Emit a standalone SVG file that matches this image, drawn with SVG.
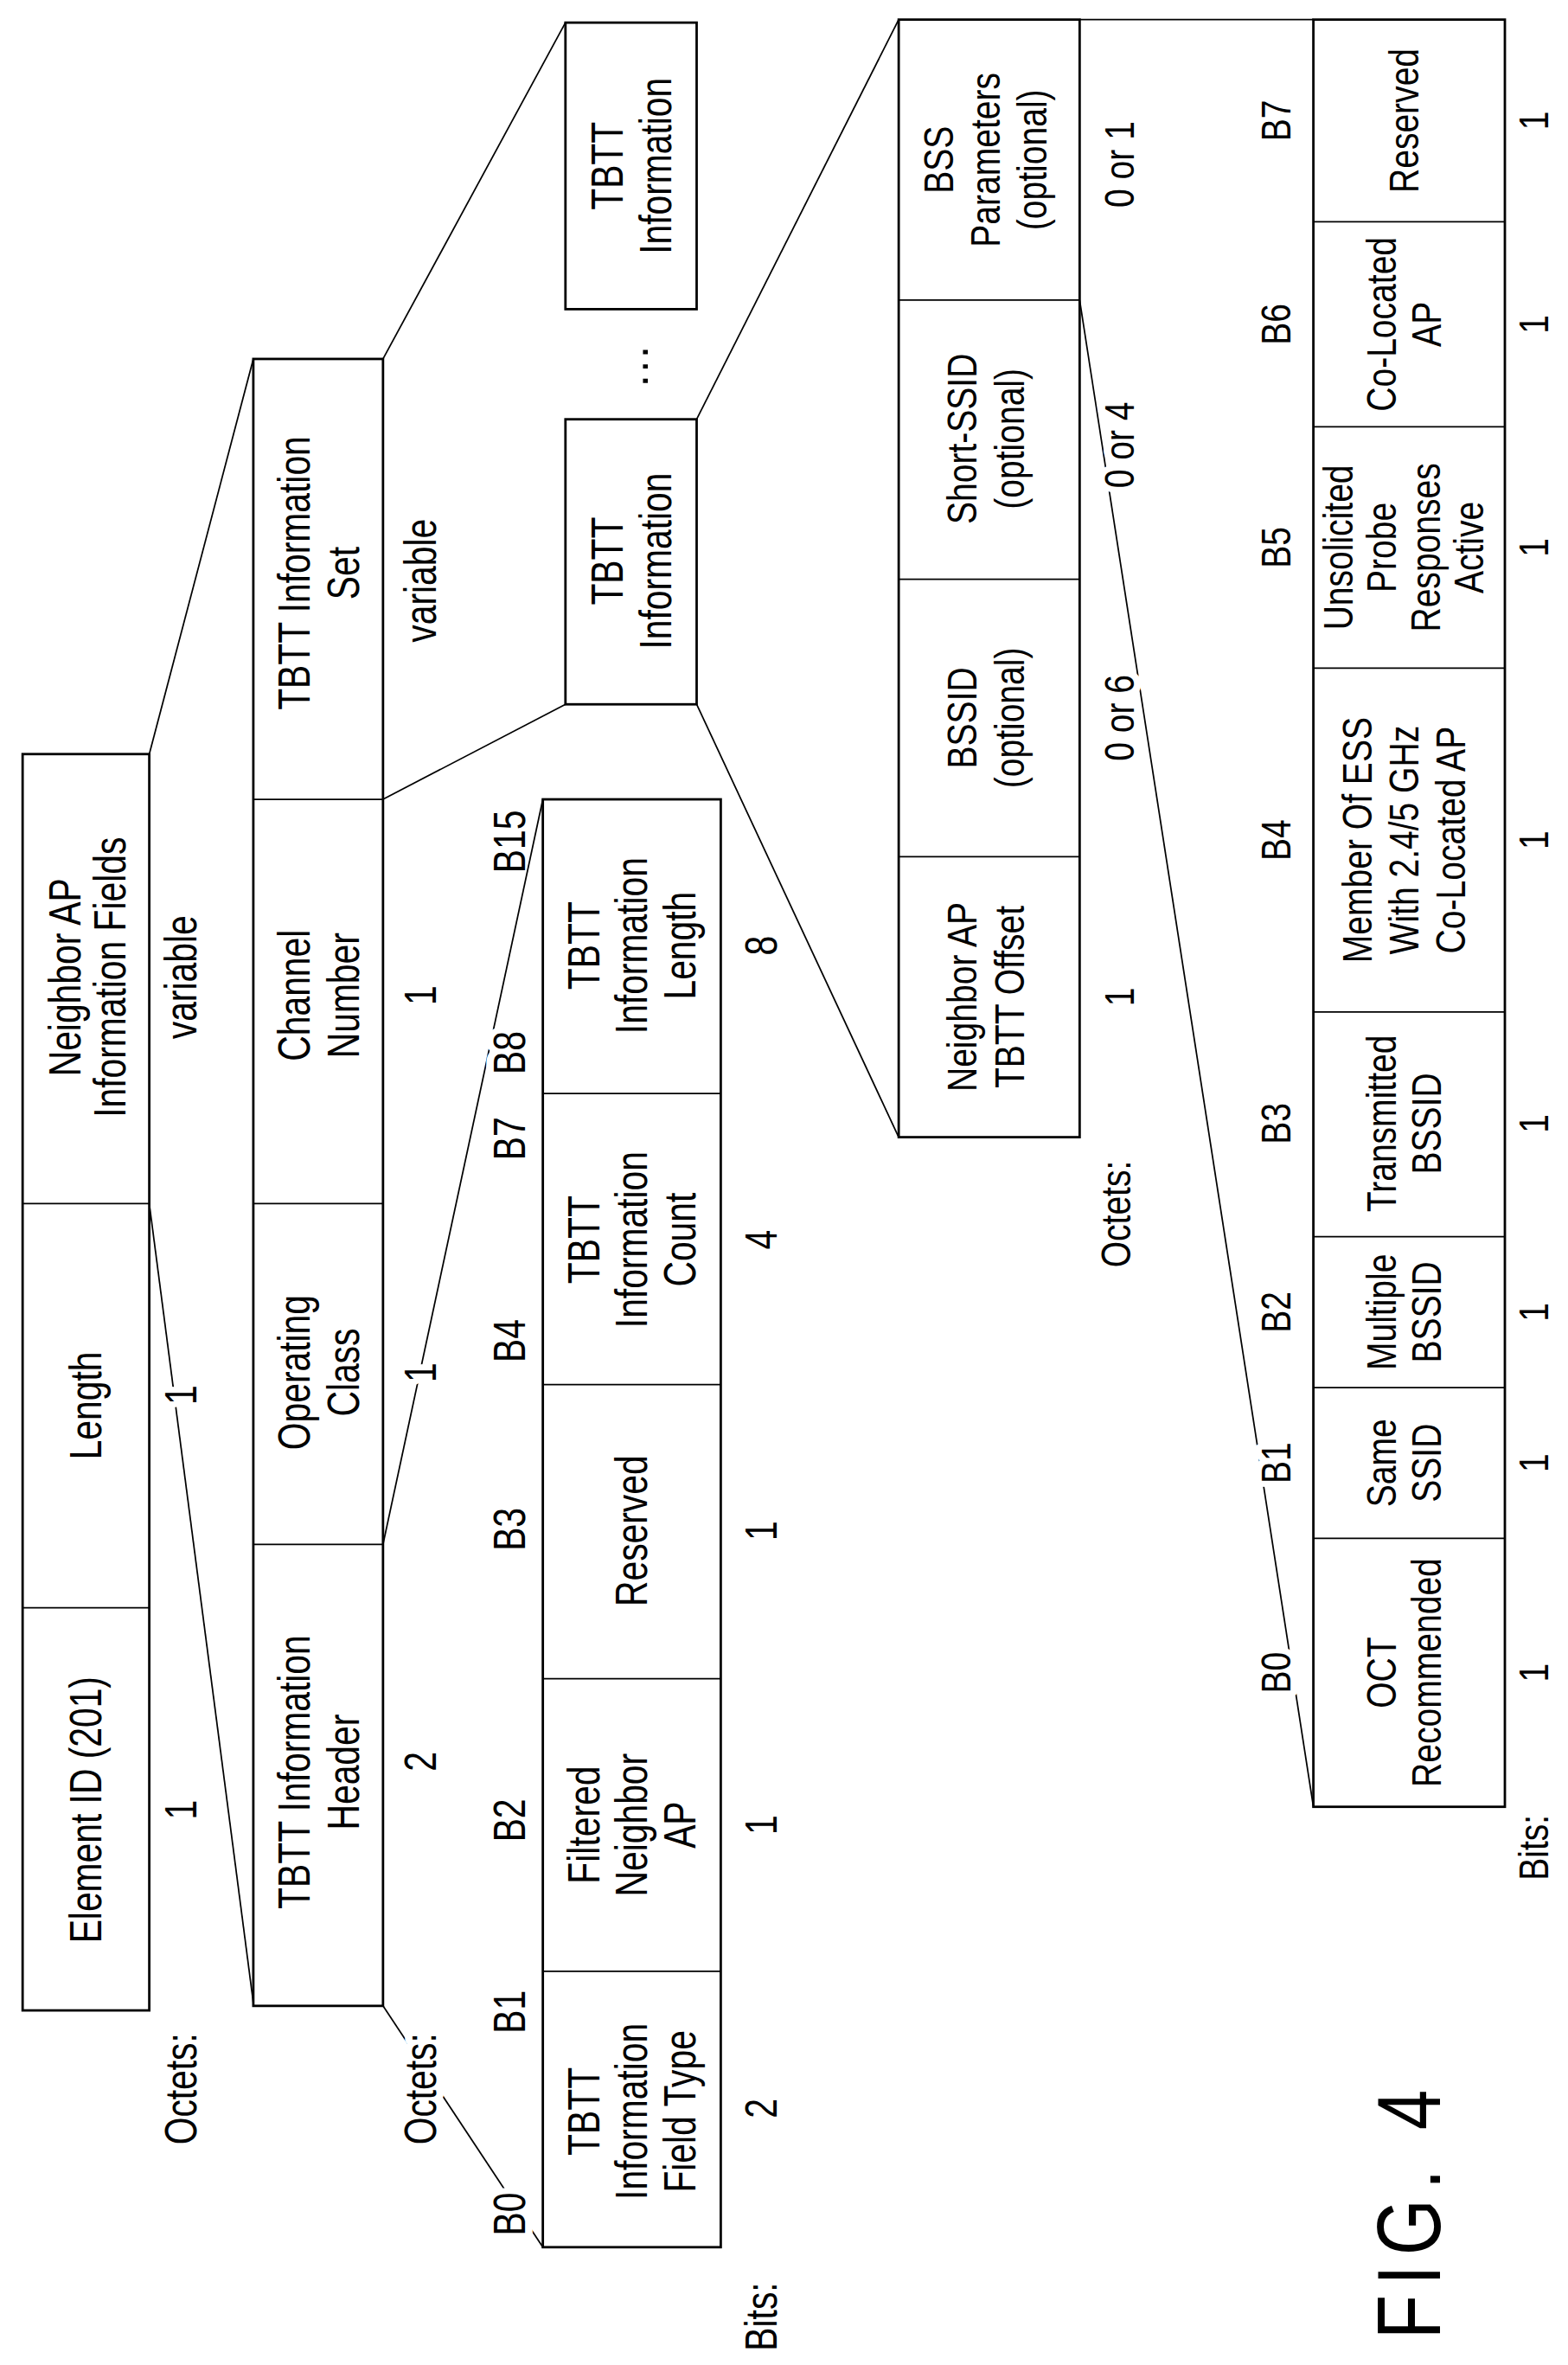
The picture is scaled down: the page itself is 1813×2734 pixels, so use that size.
<svg xmlns="http://www.w3.org/2000/svg" width="1813" height="2734" viewBox="0 0 1813 2734">
<style>
.bx{fill:none;stroke:#000;stroke-width:1.6}
.dv{stroke:#000;stroke-width:1}
.ln{stroke:#000;stroke-width:1;fill:none}
text{font-family:"Liberation Sans",Arial,sans-serif;font-size:30px;text-anchor:middle;dominant-baseline:central;fill:#000}
.s{font-size:28px}
.h{stroke:#fff;stroke-width:10px;paint-order:stroke;stroke-linejoin:round}
.fig{font-size:60px;letter-spacing:8px}
</style>
<rect width="1813" height="2734" fill="#fff"/>
<g transform="scale(1.7435)">
<g id="connectors">
<line class="ln" x1="99" y1="798" x2="168" y2="1328"/>
<line class="ln" x1="99" y1="500" x2="168" y2="238"/>
<line class="ln" x1="254" y1="1024" x2="360" y2="530"/>
<line class="ln" x1="254" y1="1330" x2="360" y2="1490"/>
<line class="ln" x1="254" y1="530" x2="375" y2="467"/>
<line class="ln" x1="254" y1="238" x2="375" y2="15"/>
<line class="ln" x1="462" y1="278" x2="596" y2="13"/>
<line class="ln" x1="462" y1="467" x2="596" y2="754"/>
<line class="ln" x1="716" y1="13" x2="871" y2="13"/>
<line class="ln" x1="716" y1="199" x2="871" y2="1198"/>
</g>
<g id="boxA">
<rect class="bx" x="15" y="500" width="84" height="833"/>
<line class="dv" x1="15" y1="1066" x2="99" y2="1066"/>
<line class="dv" x1="15" y1="798" x2="99" y2="798"/>
<text transform="translate(57,1200) rotate(-90) scale(0.78,1)">Element ID (201)</text>
<text transform="translate(57,932) rotate(-90) scale(0.78,1)">Length</text>
<text transform="translate(43,648) rotate(-90) scale(0.78,1)">Neighbor AP</text>
<text transform="translate(73,648) rotate(-90) scale(0.78,1)">Information Fields</text>
</g>
<g id="rowA">
<text transform="translate(120,1385) rotate(-90) scale(0.78,1)">Octets:</text>
<text transform="translate(120,1200) rotate(-90) scale(0.78,1)">1</text>
<text class="h" transform="translate(120,925) rotate(-90) scale(0.78,1)">1</text>
<text transform="translate(120,648) rotate(-90) scale(0.78,1)">variable</text>
</g>
<g id="boxB">
<rect class="bx" x="168" y="238" width="86" height="1092"/>
<line class="dv" x1="168" y1="1024" x2="254" y2="1024"/>
<line class="dv" x1="168" y1="798" x2="254" y2="798"/>
<line class="dv" x1="168" y1="530" x2="254" y2="530"/>
<text transform="translate(195,1175) rotate(-90) scale(0.78,1)">TBTT Information</text>
<text transform="translate(228,1175) rotate(-90) scale(0.78,1)">Header</text>
<text transform="translate(195,910) rotate(-90) scale(0.78,1)">Operating</text>
<text transform="translate(228,910) rotate(-90) scale(0.78,1)">Class</text>
<text transform="translate(195,660) rotate(-90) scale(0.78,1)">Channel</text>
<text transform="translate(228,660) rotate(-90) scale(0.78,1)">Number</text>
<text transform="translate(195,380) rotate(-90) scale(0.78,1)">TBTT Information</text>
<text transform="translate(228,380) rotate(-90) scale(0.78,1)">Set</text>
</g>
<g id="rowB">
<text class="h" transform="translate(279,1385) rotate(-90) scale(0.78,1)">Octets:</text>
<text transform="translate(279,1168) rotate(-90) scale(0.78,1)">2</text>
<text class="h" transform="translate(279,910) rotate(-90) scale(0.78,1)">1</text>
<text transform="translate(279,660) rotate(-90) scale(0.78,1)">1</text>
<text transform="translate(279,385) rotate(-90) scale(0.78,1)">variable</text>
</g>
<g id="bitsC">
<text class="h" transform="translate(338,1468) rotate(-90) scale(0.78,1)">B0</text>
<text transform="translate(338,1334) rotate(-90) scale(0.78,1)">B1</text>
<text transform="translate(338,1207) rotate(-90) scale(0.78,1)">B2</text>
<text transform="translate(338,1014) rotate(-90) scale(0.78,1)">B3</text>
<text transform="translate(338,889) rotate(-90) scale(0.78,1)">B4</text>
<text transform="translate(338,755) rotate(-90) scale(0.78,1)">B7</text>
<text class="h" transform="translate(338,698) rotate(-90) scale(0.78,1)">B8</text>
<text transform="translate(338,558) rotate(-90) scale(0.78,1)">B15</text>
</g>
<g id="boxC">
<rect class="bx" x="360" y="530" width="118" height="960"/>
<line class="dv" x1="360" y1="1307" x2="478" y2="1307"/>
<line class="dv" x1="360" y1="1113" x2="478" y2="1113"/>
<line class="dv" x1="360" y1="918" x2="478" y2="918"/>
<line class="dv" x1="360" y1="725" x2="478" y2="725"/>
<text transform="translate(387,1400) rotate(-90) scale(0.78,1)">TBTT</text>
<text transform="translate(419,1400) rotate(-90) scale(0.78,1)">Information</text>
<text transform="translate(451,1400) rotate(-90) scale(0.78,1)">Field Type</text>
<text transform="translate(387,1210) rotate(-90) scale(0.78,1)">Filtered</text>
<text transform="translate(419,1210) rotate(-90) scale(0.78,1)">Neighbor</text>
<text transform="translate(451,1210) rotate(-90) scale(0.78,1)">AP</text>
<text transform="translate(419,1015) rotate(-90) scale(0.78,1)">Reserved</text>
<text transform="translate(387,822) rotate(-90) scale(0.78,1)">TBTT</text>
<text transform="translate(419,822) rotate(-90) scale(0.78,1)">Information</text>
<text transform="translate(451,822) rotate(-90) scale(0.78,1)">Count</text>
<text transform="translate(387,627) rotate(-90) scale(0.78,1)">TBTT</text>
<text transform="translate(419,627) rotate(-90) scale(0.78,1)">Information</text>
<text transform="translate(451,627) rotate(-90) scale(0.78,1)">Length</text>
</g>
<g id="rowC">
<text transform="translate(505,1398) rotate(-90) scale(0.78,1)">2</text>
<text transform="translate(505,1210) rotate(-90) scale(0.78,1)">1</text>
<text transform="translate(505,1015) rotate(-90) scale(0.78,1)">1</text>
<text transform="translate(505,822) rotate(-90) scale(0.78,1)">4</text>
<text transform="translate(505,627) rotate(-90) scale(0.78,1)">8</text>
<text transform="translate(505,1536) rotate(-90) scale(0.78,1)">Bits:</text>
</g>
<g id="tbttInfo2">
<rect class="bx" x="375" y="15" width="87" height="190"/>
<text transform="translate(403,110) rotate(-90) scale(0.78,1)">TBTT</text>
<text transform="translate(435,110) rotate(-90) scale(0.78,1)">Information</text>
</g>
<text transform="translate(419,243) rotate(-90)">…</text>
<g id="tbttInfo1">
<rect class="bx" x="375" y="278" width="87" height="189"/>
<text transform="translate(403,372) rotate(-90) scale(0.78,1)">TBTT</text>
<text transform="translate(435,372) rotate(-90) scale(0.78,1)">Information</text>
</g>
<g id="boxD">
<rect class="bx" x="596" y="13" width="120" height="741"/>
<line class="dv" x1="596" y1="199" x2="716" y2="199"/>
<line class="dv" x1="596" y1="384" x2="716" y2="384"/>
<line class="dv" x1="596" y1="568" x2="716" y2="568"/>
<text class="s" transform="translate(622,106) rotate(-90) scale(0.8,1)">BSS</text>
<text class="s" transform="translate(653,106) rotate(-90) scale(0.8,1)">Parameters</text>
<text class="s" transform="translate(684,106) rotate(-90) scale(0.8,1)">(optional)</text>
<text class="s" transform="translate(638,291) rotate(-90) scale(0.8,1)">Short-SSID</text>
<text class="s" transform="translate(669,291) rotate(-90) scale(0.8,1)">(optional)</text>
<text class="s" transform="translate(638,476) rotate(-90) scale(0.8,1)">BSSID</text>
<text class="s" transform="translate(669,476) rotate(-90) scale(0.8,1)">(optional)</text>
<text class="s" transform="translate(638,661) rotate(-90) scale(0.8,1)">Neighbor AP</text>
<text class="s" transform="translate(669,661) rotate(-90) scale(0.8,1)">TBTT Offset</text>
</g>
<g id="rowD">
<text class="s" transform="translate(742,109) rotate(-90) scale(0.8,1)">0 or 1</text>
<text class="s h" transform="translate(742,295) rotate(-90) scale(0.8,1)">0 or 4</text>
<text class="s h" transform="translate(742,476) rotate(-90) scale(0.8,1)">0 or 6</text>
<text class="s" transform="translate(742,661) rotate(-90) scale(0.8,1)">1</text>
<text class="s" transform="translate(740,805) rotate(-90) scale(0.8,1)">Octets:</text>
</g>
<g id="boxE">
<rect class="bx" x="871" y="13" width="127" height="1185"/>
<line class="dv" x1="871" y1="147" x2="998" y2="147"/>
<line class="dv" x1="871" y1="283" x2="998" y2="283"/>
<line class="dv" x1="871" y1="443" x2="998" y2="443"/>
<line class="dv" x1="871" y1="671" x2="998" y2="671"/>
<line class="dv" x1="871" y1="820" x2="998" y2="820"/>
<line class="dv" x1="871" y1="920" x2="998" y2="920"/>
<line class="dv" x1="871" y1="1020" x2="998" y2="1020"/>
<text class="s" transform="translate(931,80) rotate(-90) scale(0.8,1)">Reserved</text>
<text class="s" transform="translate(916,215) rotate(-90) scale(0.8,1)">Co-Located</text>
<text class="s" transform="translate(946,215) rotate(-90) scale(0.8,1)">AP</text>
<text class="s" transform="translate(887,363) rotate(-90) scale(0.8,1)">Unsolicited</text>
<text class="s" transform="translate(916,363) rotate(-90) scale(0.8,1)">Probe</text>
<text class="s" transform="translate(945,363) rotate(-90) scale(0.8,1)">Responses</text>
<text class="s" transform="translate(974,363) rotate(-90) scale(0.8,1)">Active</text>
<text class="s" transform="translate(900,557) rotate(-90) scale(0.8,1)">Member Of ESS</text>
<text class="s" transform="translate(931,557) rotate(-90) scale(0.8,1)">With 2.4/5 GHz</text>
<text class="s" transform="translate(962,557) rotate(-90) scale(0.8,1)">Co-Located AP</text>
<text class="s" transform="translate(916,745) rotate(-90) scale(0.8,1)">Transmitted</text>
<text class="s" transform="translate(946,745) rotate(-90) scale(0.8,1)">BSSID</text>
<text class="s" transform="translate(916,870) rotate(-90) scale(0.8,1)">Multiple</text>
<text class="s" transform="translate(946,870) rotate(-90) scale(0.8,1)">BSSID</text>
<text class="s" transform="translate(916,970) rotate(-90) scale(0.8,1)">Same</text>
<text class="s" transform="translate(946,970) rotate(-90) scale(0.8,1)">SSID</text>
<text class="s" transform="translate(916,1109) rotate(-90) scale(0.8,1)">OCT</text>
<text class="s" transform="translate(946,1109) rotate(-90) scale(0.8,1)">Recommended</text>
</g>
<g id="bitsE">
<text class="s" transform="translate(846,80) rotate(-90) scale(0.8,1)">B7</text>
<text class="s" transform="translate(846,215) rotate(-90) scale(0.8,1)">B6</text>
<text class="s" transform="translate(846,363) rotate(-90) scale(0.8,1)">B5</text>
<text class="s" transform="translate(846,557) rotate(-90) scale(0.8,1)">B4</text>
<text class="s" transform="translate(846,745) rotate(-90) scale(0.8,1)">B3</text>
<text class="s" transform="translate(846,870) rotate(-90) scale(0.8,1)">B2</text>
<text class="s h" transform="translate(846,970) rotate(-90) scale(0.8,1)">B1</text>
<text class="s h" transform="translate(846,1109) rotate(-90) scale(0.8,1)">B0</text>
</g>
<g id="rowE">
<text class="s" transform="translate(1017,80) rotate(-90) scale(0.8,1)">1</text>
<text class="s" transform="translate(1017,215) rotate(-90) scale(0.8,1)">1</text>
<text class="s" transform="translate(1017,363) rotate(-90) scale(0.8,1)">1</text>
<text class="s" transform="translate(1017,557) rotate(-90) scale(0.8,1)">1</text>
<text class="s" transform="translate(1017,745) rotate(-90) scale(0.8,1)">1</text>
<text class="s" transform="translate(1017,870) rotate(-90) scale(0.8,1)">1</text>
<text class="s" transform="translate(1017,970) rotate(-90) scale(0.8,1)">1</text>
<text class="s" transform="translate(1017,1109) rotate(-90) scale(0.8,1)">1</text>
<text class="s" transform="translate(1017,1225) rotate(-90) scale(0.8,1)">Bits:</text>
</g>
<text class="fig" transform="translate(934,1465) rotate(-90) scale(0.8,1)">FIG. 4</text>
</g>
</svg>
